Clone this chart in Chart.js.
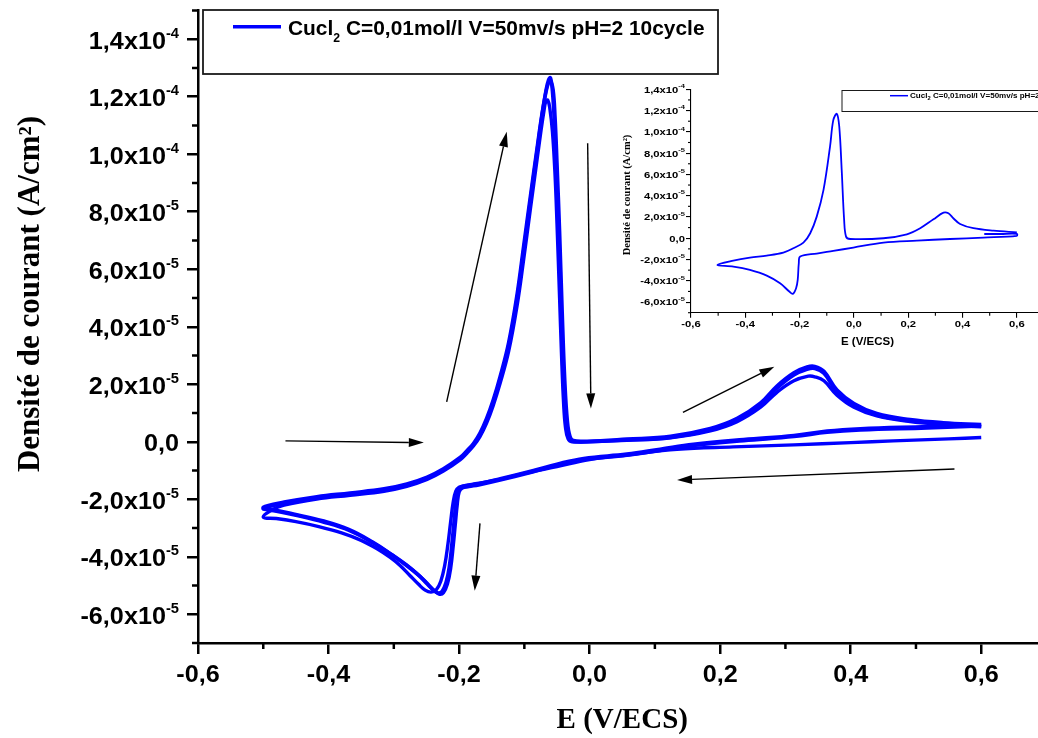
<!DOCTYPE html>
<html>
<head>
<meta charset="utf-8">
<script src="https://cdn.jsdelivr.net/npm/chart.js@4/dist/chart.umd.min.js"></script>
<style>
  html, body { margin: 0; padding: 0; background: #fff; overflow: hidden; }
  #wrap { position: relative; width: 1038px; height: 738px; overflow: hidden; background: #fff; }
  #main { position: absolute; left: 0; top: 0; }
  #inset { position: absolute; left: 600px; top: 80px; background: #fff; filter: blur(0.3px); }
</style>
</head>
<body>
<div id="wrap">
  <canvas id="main" width="1047" height="738"></canvas>
  <canvas id="inset" width="444" height="275"></canvas>
</div>
<script>
// ---- Axis ticks -------------------------------------------------------
const eMajorTicks = [-0.6, -0.4, -0.2, 0, 0.2, 0.4, 0.6];
const eMinorTicks = [-0.5, -0.3, -0.1, 0.1, 0.3, 0.5, 0.7];
const eTickLabels = ['-0,6', '-0,4', '-0,2', '0,0', '0,2', '0,4', '0,6'];
const jMajorTicks = [-6e-5, -4e-5, -2e-5, 0, 2e-5, 4e-5, 6e-5, 8e-5, 1e-4, 1.2e-4, 1.4e-4];
const jMinorTicks = [-7e-5, -5e-5, -3e-5, -1e-5, 1e-5, 3e-5, 5e-5, 7e-5, 9e-5, 1.1e-4, 1.3e-4, 1.5e-4];
const jTickMantissas = ['-6,0', '-4,0', '-2,0', '0,0', '2,0', '4,0', '6,0', '8,0', '1,0', '1,2', '1,4'];
const jTickExponents = ['-5', '-5', '-5', '', '-5', '-5', '-5', '-5', '-4', '-4', '-4'];
const insetJMinorTicks = [-7e-5, -5e-5, -3e-5, -1e-5, 1e-5, 3e-5, 5e-5, 7e-5, 9e-5, 1.1e-4, 1.3e-4];

// ---- Legend / titles ---------------------------------------------------
const seriesName = 'Cucl';
const seriesSub = '2';
const seriesRest = ' C=0,01mol/l V=50mv/s pH=2 10cycle';
const xTitle = 'E (V/ECS)';
const yTitle = 'Densité de courant (A/cm²)';

// ---- Voltammograms: potential E (V/ECS), current density j (A/cm²) ----
// each cycle: reverse scan 0.6 -> -0.5, then forward scan -0.5 -> 0.6
const cycle1E = [0.600, 0.550, 0.465, 0.400, 0.313, 0.220, 0.134, 0.060, 0.000, -0.050, -0.100, -0.140, -0.175, -0.190, -0.200, -0.205, -0.209, -0.213, -0.217, -0.222, -0.228, -0.235, -0.243, -0.252, -0.262, -0.275, -0.290, -0.305, -0.325, -0.350, -0.380, -0.415, -0.450, -0.480, -0.500,
  -0.485, -0.468, -0.418, -0.367, -0.315, -0.280, -0.249, -0.224, -0.198, -0.188, -0.178, -0.168, -0.158, -0.148, -0.137, -0.124, -0.111, -0.101, -0.091, -0.080, -0.074, -0.070, -0.067, -0.064, -0.061, -0.057, -0.053, -0.050, -0.046, -0.043, -0.040, -0.037, -0.033, -0.027, 0.000,
  0.057, 0.124, 0.185, 0.226, 0.262, 0.287, 0.313, 0.335, 0.345, 0.359, 0.379, 0.405, 0.440, 0.491, 0.542, 0.600];
const cycle1J = [0.15e-5, 0.10e-5, 0.03e-5, -0.03e-5, -0.11e-5, -0.18e-5, -0.26e-5, -0.45e-5, -0.62e-5, -0.86e-5, -1.10e-5, -1.32e-5, -1.46e-5, -1.52e-5, -1.58e-5, -1.72e-5, -2.10e-5, -2.80e-5, -3.55e-5, -4.30e-5, -4.85e-5, -5.15e-5, -5.23e-5, -5.16e-5, -4.96e-5, -4.66e-5, -4.31e-5, -4.03e-5, -3.73e-5, -3.43e-5, -3.17e-5, -2.95e-5, -2.78e-5, -2.67e-5, -2.62e-5,
  -2.35e-5, -2.20e-5, -1.99e-5, -1.86e-5, -1.72e-5, -1.55e-5, -1.31e-5, -1.02e-5, -0.62e-5, -0.40e-5, -0.15e-5, 0.18e-5, 0.64e-5, 1.24e-5, 2.04e-5, 3.15e-5, 4.75e-5, 6.35e-5, 8.05e-5, 9.90e-5, 10.90e-5, 11.50e-5, 11.85e-5, 11.88e-5, 11.60e-5, 10.80e-5, 9.30e-5, 7.60e-5, 5.00e-5, 3.00e-5, 1.40e-5, 0.50e-5, 0.10e-5, 0.00, 0.00,
  0.05e-5, 0.14e-5, 0.38e-5, 0.70e-5, 1.20e-5, 1.72e-5, 2.12e-5, 2.28e-5, 2.26e-5, 2.12e-5, 1.62e-5, 1.20e-5, 0.90e-5, 0.70e-5, 0.60e-5, 0.52e-5];

const cycle2E = [0.600, 0.517, 0.415, 0.364, 0.313, 0.236, 0.159, 0.108, 0.057, -0.009, -0.050, -0.086, -0.137, -0.170, -0.185, -0.195, -0.200, -0.203, -0.206, -0.209, -0.213, -0.218, -0.224, -0.230, -0.238, -0.248, -0.260, -0.279, -0.300, -0.331, -0.367, -0.407, -0.450, -0.484, -0.500,
  -0.468, -0.418, -0.367, -0.315, -0.280, -0.249, -0.224, -0.198, -0.188, -0.178, -0.168, -0.158, -0.148, -0.137, -0.124, -0.111, -0.101, -0.091, -0.080, -0.073, -0.067, -0.063, -0.060, -0.057, -0.054, -0.051, -0.048, -0.043, -0.039, -0.035, -0.031, -0.025, -0.004,
  0.057, 0.124, 0.185, 0.226, 0.262, 0.287, 0.313, 0.333, 0.345, 0.359, 0.379, 0.405, 0.440, 0.491, 0.542, 0.600];
const cycle2J = [0.55e-5, 0.48e-5, 0.41e-5, 0.33e-5, 0.18e-5, 0.04e-5, -0.13e-5, -0.30e-5, -0.47e-5, -0.62e-5, -0.82e-5, -1.04e-5, -1.33e-5, -1.50e-5, -1.56e-5, -1.61e-5, -1.75e-5, -2.20e-5, -2.90e-5, -3.60e-5, -4.40e-5, -4.95e-5, -5.25e-5, -5.30e-5, -5.18e-5, -4.95e-5, -4.68e-5, -4.33e-5, -3.98e-5, -3.53e-5, -3.10e-5, -2.80e-5, -2.56e-5, -2.40e-5, -2.32e-5,
  -2.14e-5, -1.95e-5, -1.82e-5, -1.68e-5, -1.51e-5, -1.27e-5, -0.98e-5, -0.58e-5, -0.35e-5, -0.10e-5, 0.25e-5, 0.73e-5, 1.35e-5, 2.18e-5, 3.34e-5, 5.00e-5, 6.65e-5, 8.35e-5, 10.20e-5, 11.35e-5, 12.20e-5, 12.58e-5, 12.66e-5, 12.20e-5, 11.10e-5, 9.40e-5, 7.50e-5, 4.00e-5, 1.50e-5, 0.40e-5, 0.08e-5, 0.01e-5, 0.00,
  0.06e-5, 0.15e-5, 0.41e-5, 0.75e-5, 1.28e-5, 1.86e-5, 2.32e-5, 2.52e-5, 2.55e-5, 2.38e-5, 1.74e-5, 1.28e-5, 0.93e-5, 0.73e-5, 0.62e-5, 0.55e-5];

const cycle3E = [0.600, 0.517, 0.415, 0.364, 0.313, 0.236, 0.159, 0.108, 0.057, -0.009, -0.050, -0.086, -0.137, -0.170, -0.187, -0.197, -0.202, -0.205, -0.208, -0.211, -0.215, -0.220, -0.226, -0.232, -0.240, -0.250, -0.262, -0.281, -0.302, -0.333, -0.369, -0.409, -0.452, -0.486, -0.500,
  -0.468, -0.418, -0.367, -0.315, -0.280, -0.249, -0.224, -0.198, -0.188, -0.178, -0.168, -0.158, -0.148, -0.137, -0.124, -0.111, -0.101, -0.091, -0.080, -0.073, -0.067, -0.063, -0.060, -0.056, -0.053, -0.050, -0.046, -0.042, -0.038, -0.034, -0.030, -0.025, -0.004,
  0.057, 0.124, 0.185, 0.226, 0.262, 0.287, 0.313, 0.333, 0.345, 0.359, 0.379, 0.405, 0.440, 0.491, 0.542, 0.600];
const cycle3J = [0.60e-5, 0.53e-5, 0.45e-5, 0.37e-5, 0.22e-5, 0.08e-5, -0.09e-5, -0.26e-5, -0.43e-5, -0.58e-5, -0.78e-5, -1.00e-5, -1.29e-5, -1.46e-5, -1.52e-5, -1.57e-5, -1.70e-5, -2.15e-5, -2.85e-5, -3.55e-5, -4.35e-5, -4.90e-5, -5.20e-5, -5.26e-5, -5.14e-5, -4.92e-5, -4.64e-5, -4.28e-5, -3.94e-5, -3.48e-5, -3.05e-5, -2.75e-5, -2.52e-5, -2.36e-5, -2.28e-5,
  -2.10e-5, -1.91e-5, -1.78e-5, -1.64e-5, -1.47e-5, -1.23e-5, -0.94e-5, -0.54e-5, -0.31e-5, -0.06e-5, 0.30e-5, 0.80e-5, 1.43e-5, 2.28e-5, 3.46e-5, 5.15e-5, 6.82e-5, 8.50e-5, 10.30e-5, 11.40e-5, 12.15e-5, 12.48e-5, 12.55e-5, 12.25e-5, 11.30e-5, 9.70e-5, 7.30e-5, 4.50e-5, 2.10e-5, 0.70e-5, 0.18e-5, 0.04e-5, 0.02e-5,
  0.09e-5, 0.19e-5, 0.46e-5, 0.81e-5, 1.35e-5, 1.94e-5, 2.40e-5, 2.60e-5, 2.62e-5, 2.45e-5, 1.80e-5, 1.33e-5, 0.98e-5, 0.77e-5, 0.66e-5, 0.60e-5];

// single cycle shown in the small panel
const insetE = [0.480, 0.540, 0.600, 0.600, 0.477, 0.354, 0.232, 0.109, -0.002, -0.076, -0.137, -0.198, -0.203, -0.207, -0.213, -0.225, -0.238, -0.272, -0.321, -0.383, -0.444, -0.503,
  -0.444, -0.383, -0.321, -0.260, -0.223, -0.186, -0.161, -0.137, -0.112, -0.088, -0.076, -0.063, -0.054, -0.045, -0.036, -0.029, -0.014, 0.109, 0.195, 0.244, 0.293, 0.330, 0.348, 0.366, 0.391, 0.440, 0.514, 0.600];
const insetJ = [0.40e-5, 0.40e-5, 0.41e-5, 0.22e-5, 0.06e-5, -0.07e-5, -0.22e-5, -0.41e-5, -0.88e-5, -1.19e-5, -1.44e-5, -1.72e-5, -2.35e-5, -3.92e-5, -4.70e-5, -5.23e-5, -5.01e-5, -4.23e-5, -3.51e-5, -2.98e-5, -2.67e-5, -2.51e-5,
  -2.10e-5, -1.82e-5, -1.63e-5, -1.35e-5, -0.94e-5, -0.41e-5, 0.47e-5, 2.03e-5, 4.54e-5, 8.60e-5, 11.1e-5, 11.7e-5, 10.5e-5, 6.4e-5, 1.7e-5, 0.15e-5, -0.07e-5, 0.00, 0.37e-5, 0.94e-5, 1.78e-5, 2.40e-5, 2.34e-5, 1.88e-5, 1.34e-5, 0.94e-5, 0.71e-5, 0.56e-5];

// scan-direction arrows (start -> tip), in E / j units
const arrowStartE = [-0.466, -0.219, -0.003, 0.143, 0.559, -0.168];
const arrowStartJ = [0.03e-5, 1.39e-5, 10.38e-5, 1.02e-5, -0.95e-5, -2.84e-5];
const arrowEndE = [-0.254, -0.127, 0.002, 0.283, 0.134, -0.176];
const arrowEndJ = [-0.03e-5, 10.78e-5, 1.16e-5, 2.61e-5, -1.33e-5, -5.18e-5];

const BLUE = '#0000ff';
const SANS = '"Liberation Sans", Arial, sans-serif';
const SERIF = '"Liberation Serif", "Times New Roman", serif';

function toPoints(E, J) { return E.map((e, i) => ({ x: e, y: J[i] })); }

function drawText(ctx, str, x, y, font, align, sx) {
  ctx.save();
  ctx.font = font;
  ctx.textAlign = align;
  ctx.textBaseline = 'alphabetic';
  ctx.fillStyle = '#000';
  ctx.translate(x, y);
  ctx.scale(sx, 1);
  ctx.fillText(str, 0, 0);
  ctx.restore();
}
function textWidth(ctx, str, font, sx) {
  ctx.save(); ctx.font = font;
  const w = ctx.measureText(str).width * sx;
  ctx.restore();
  return w;
}
function drawPowerLabel(ctx, mant, exp, xRight, yTick, st) {
  if (!exp) { drawText(ctx, mant, xRight, yTick + st.dy, st.font, 'right', st.sx); return; }
  const wSup = textWidth(ctx, exp, st.supFont, st.sx);
  drawText(ctx, exp, xRight, yTick + st.supDy, st.supFont, 'right', st.sx);
  drawText(ctx, mant + 'x10', xRight - wSup, yTick + st.dy, st.font, 'right', st.sx);
}
function line(ctx, x1, y1, x2, y2) { ctx.beginPath(); ctx.moveTo(x1, y1); ctx.lineTo(x2, y2); ctx.stroke(); }
function arrow(ctx, x1, y1, x2, y2, len, half) {
  const a = Math.atan2(y2 - y1, x2 - x1);
  const bx = x2 - len * Math.cos(a), by = y2 - len * Math.sin(a);
  line(ctx, x1, y1, bx, by);
  ctx.beginPath();
  ctx.moveTo(x2, y2);
  ctx.lineTo(bx + half * Math.sin(a), by - half * Math.cos(a));
  ctx.lineTo(bx - half * Math.sin(a), by + half * Math.cos(a));
  ctx.closePath();
  ctx.fill();
}
function drawLegend(ctx, x, yBase, st) {
  drawText(ctx, seriesName, x, yBase, st.font, 'left', st.sx);
  let cx = x + textWidth(ctx, seriesName, st.font, st.sx);
  drawText(ctx, seriesSub, cx, yBase + st.subDy, st.subFont, 'left', st.sx);
  cx += textWidth(ctx, seriesSub, st.subFont, st.sx);
  drawText(ctx, seriesRest, cx, yBase, st.font, 'left', st.sx);
}

function axisScales(o) {
  return {
    x: {
      type: 'linear', position: 'bottom', min: -0.6, max: 0.7,
      afterBuildTicks(s) { s.ticks = eMajorTicks.map(v => ({ value: v })); },
      afterFit(s) { s.height = o.xHeight; },
      ticks: { display: false },
      grid: { display: true, drawOnChartArea: false, drawTicks: true, tickLength: o.tick, color: '#000', lineWidth: o.lw, tickWidth: o.lw, tickColor: '#000' },
      border: { display: true, color: '#000', width: o.lw }
    },
    y: {
      type: 'linear', position: 'left', min: -7e-5, max: o.yMax,
      afterBuildTicks(s) { s.ticks = jMajorTicks.map(v => ({ value: v })); },
      afterFit(s) { s.width = o.yWidth; },
      ticks: { display: false },
      grid: { display: true, drawOnChartArea: false, drawTicks: true, tickLength: o.tick, color: '#000', lineWidth: o.lw, tickWidth: o.lw, tickColor: '#000' },
      border: { display: true, color: '#000', width: o.lw }
    }
  };
}

function decorPlugin(o) {
  return {
    id: 'decor',
    afterDatasetsDraw(chart) {
      const ctx = chart.ctx, xs = chart.scales.x, ys = chart.scales.y;
      ctx.save();
      ctx.strokeStyle = '#000';
      ctx.lineWidth = o.lw;
      eMinorTicks.forEach(v => { const px = xs.getPixelForValue(v); line(ctx, px, xs.top, px, xs.top + o.minor); });
      o.jMinor.forEach(v => { const py = ys.getPixelForValue(v); line(ctx, ys.right - o.minor, py, ys.right, py); });
      ctx.fillStyle = '#000';
      eMajorTicks.forEach((v, i) => drawText(ctx, eTickLabels[i], xs.getPixelForValue(v), o.xLabelBase, o.lab.font, 'center', o.lab.sx));
      jMajorTicks.forEach((v, i) => drawPowerLabel(ctx, jTickMantissas[i], jTickExponents[i], o.yLabelRight, ys.getPixelForValue(v), o.lab));
      // axis titles
      drawText(ctx, xTitle, (chart.chartArea.left + chart.chartArea.right) / 2, o.xTitleBase, o.xTitleFont, 'center', 1);
      ctx.save();
      ctx.translate(o.yTitleX, o.yTitleY);
      ctx.rotate(-Math.PI / 2);
      drawText(ctx, yTitle, 0, 0, o.yTitleFont, 'center', 1);
      ctx.restore();
      // legend box
      const lg = o.legend;
      ctx.lineWidth = lg.frame;
      ctx.strokeStyle = '#1a1a1a';
      ctx.strokeRect(lg.x, lg.y, lg.w, lg.h);
      ctx.strokeStyle = BLUE;
      ctx.lineWidth = lg.sampleW;
      line(ctx, lg.sx1, lg.sy, lg.sx2, lg.sy);
      drawLegend(ctx, lg.tx, lg.ty, lg);
      // scan direction arrows
      if (o.arrows) {
        ctx.strokeStyle = '#000';
        ctx.fillStyle = '#000';
        ctx.lineWidth = 1.4;
        arrowStartE.forEach((e, i) => arrow(ctx,
          xs.getPixelForValue(e), ys.getPixelForValue(arrowStartJ[i]),
          xs.getPixelForValue(arrowEndE[i]), ys.getPixelForValue(arrowEndJ[i]), 15, 4.5));
      }
      ctx.restore();
    }
  };
}

const lineStyle = (w, t) => ({ showLine: true, borderColor: BLUE, backgroundColor: BLUE, borderWidth: w, pointRadius: 0, tension: t, fill: false });

new Chart(document.getElementById('main'), {
  type: 'scatter',
  data: {
    datasets: [
      Object.assign({ label: seriesName + '₂' + seriesRest, data: toPoints(cycle1E, cycle1J) }, lineStyle(3.4, 0.4)),
      Object.assign({ label: 'cycle 2', data: toPoints(cycle2E, cycle2J) }, lineStyle(3.6, 0.4)),
      Object.assign({ label: 'cycle 3', data: toPoints(cycle3E, cycle3J) }, lineStyle(3.6, 0.4))
    ]
  },
  options: {
    responsive: false, animation: false, devicePixelRatio: 1,
    layout: { padding: { top: 10.5, right: 0.5, left: 0, bottom: 0 } },
    plugins: { legend: { display: false }, tooltip: { enabled: false } },
    scales: axisScales({ xHeight: 95, yWidth: 198, yMax: 1.5e-4, tick: 11, lw: 2.5 })
  },
  plugins: [decorPlugin({
    lw: 2.5, minor: 6, jMinor: jMinorTicks,
    xLabelBase: 682, yLabelRight: 179,
    lab: { font: 'bold 24px ' + SANS, supFont: 'bold 14px ' + SANS, sx: 1.05, dy: 9.5, supDy: -1.5 },
    xTitleBase: 728, xTitleFont: 'bold 29px ' + SERIF,
    yTitleX: 39, yTitleY: 294, yTitleFont: 'bold 31px ' + SERIF,
    legend: { x: 203, y: 10, w: 515, h: 64, frame: 1.8, sampleW: 3.5, sx1: 233, sx2: 281, sy: 26.7,
      tx: 288, ty: 35, font: 'bold 20.5px ' + SANS, subFont: 'bold 12px ' + SANS, subDy: 6.5, sx: 1.02 },
    arrows: true
  })]
});

new Chart(document.getElementById('inset'), {
  type: 'scatter',
  data: { datasets: [Object.assign({ label: seriesName + '₂' + seriesRest, data: toPoints(insetE, insetJ) }, lineStyle(1.8, 0.35))] },
  options: {
    responsive: false, animation: false, devicePixelRatio: 1,
    layout: { padding: { top: 9.3, right: 0, left: 0, bottom: 0 } },
    plugins: { legend: { display: false }, tooltip: { enabled: false } },
    scales: axisScales({ xHeight: 42.3, yWidth: 91, yMax: 1.4e-4, tick: 5, lw: 1.1 })
  },
  plugins: [decorPlugin({
    lw: 1.1, minor: 3, jMinor: insetJMinorTicks,
    xLabelBase: 247.3, yLabelRight: 85,
    lab: { font: 'bold 9px ' + SANS, supFont: 'bold 6px ' + SANS, sx: 1.25, dy: 3.4, supDy: -1.2 },
    xTitleBase: 265, xTitleFont: 'bold 11.5px ' + SANS,
    yTitleX: 30, yTitleY: 115, yTitleFont: 'bold 10.5px ' + SERIF,
    legend: { x: 242, y: 10.5, w: 260, h: 21, frame: 1, sampleW: 1.5, sx1: 290, sx2: 308, sy: 15.7,
      tx: 310, ty: 18.3, font: 'bold 7px ' + SANS, subFont: 'bold 5px ' + SANS, subDy: 1.8, sx: 1.15 },
    arrows: false
  })]
});
</script>
</body>
</html>
